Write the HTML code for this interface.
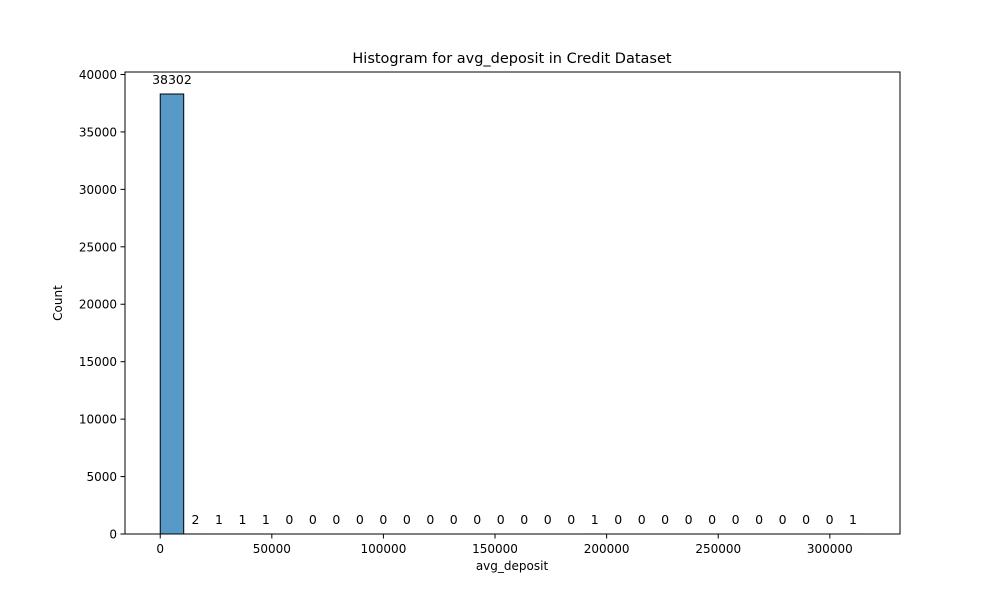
<!DOCTYPE html>
<html><head><meta charset="utf-8"><style>
body{margin:0;background:#fff;font-family:"Liberation Sans","DejaVu Sans",sans-serif;}
svg text{font-family:"DejaVu Sans","Liberation Sans",sans-serif;}
</style></head><body>
<svg id="chart" width="1000" height="600">
<text x="512" y="63" font-size="14.5" text-anchor="middle">Histogram for avg_deposit in Credit Dataset</text>
<g id="bars"></g>
<g id="xaxis"></g>
<g id="yaxis"></g>
<rect x="125" y="72" width="775" height="462" fill="none" stroke="#000" stroke-width="1"/>
<text x="512" y="570" font-size="12" text-anchor="middle">avg_deposit</text>
<text x="62" y="303" font-size="12" text-anchor="middle" transform="rotate(-90 62 303)">Count</text>
</svg>
<script>
const counts=[38302,2,1,1,1,0,0,0,0,0,0,0,0,0,0,0,0,0,1,0,0,0,0,0,0,0,0,0,0,1];
const binStart=0, binWidth=10522;
const xTicks=[0,50000,100000,150000,200000,250000,300000];
const yTicks=[0,5000,10000,15000,20000,25000,30000,35000,40000];
const NS="http://www.w3.org/2000/svg";
const xmin=-15783, xmax=331443, ymax=40217;
const X=v=>125+(v-xmin)/(xmax-xmin)*775;
const Y=v=>534-v/ymax*462;
function mk(tag,attrs,parent){const e=document.createElementNS(NS,tag);for(const k in attrs)e.setAttribute(k,attrs[k]);parent.appendChild(e);return e;}
const bars=document.getElementById('bars');
counts.forEach((c,i)=>{
 const x0=X(binStart+i*binWidth),x1=X(binStart+(i+1)*binWidth);
 const r=mk('rect',{x:x0,y:Y(c),width:x1-x0,height:Y(0)-Y(c),fill:'#5799c7',stroke:'#000','stroke-width':1},bars);
 
 
 const t=mk('text',{x:(x0+x1)/2,y:Y(c)-10,'font-size':12.5,'text-anchor':'middle'},bars);
 t.textContent=c;
 
 
});
const xa=document.getElementById('xaxis');
xTicks.forEach(v=>{
 mk('line',{x1:X(v),x2:X(v),y1:534,y2:538.5,stroke:'#000'},xa);
 const t=mk('text',{x:X(v),y:553,'font-size':12,'text-anchor':'middle'},xa);
 t.textContent=v;
 
 
});
const ya=document.getElementById('yaxis');
yTicks.forEach(v=>{
 mk('line',{x1:120.5,x2:125,y1:Y(v),y2:Y(v),stroke:'#000'},ya);
 const t=mk('text',{x:117,y:Y(v)+4.5,'font-size':12,'text-anchor':'end'},ya);
 t.textContent=v;
 
 
});
</script>
</body></html>
